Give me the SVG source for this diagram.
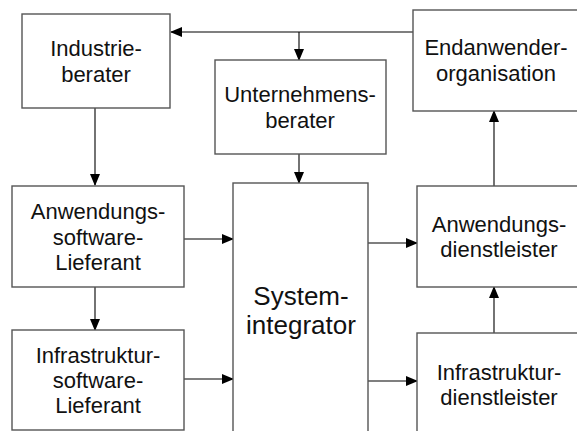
<svg xmlns="http://www.w3.org/2000/svg" width="577" height="431" viewBox="0 0 577 431">
<style>
.box{fill:#fff;stroke:#555;stroke-width:1.4}
.lbl{font-family:"Liberation Sans",Arial,sans-serif;font-size:22px;fill:#111;text-anchor:middle}
.big{font-size:26px}
.con{stroke:#000;stroke-width:1.1;fill:none}
</style>
<defs>
<marker id="ah" markerWidth="12" markerHeight="10" refX="11" refY="5" orient="auto" markerUnits="userSpaceOnUse">
<path d="M0,0 L12,5 L0,10 Z" fill="#000"/>
</marker>
</defs>
<rect width="577" height="431" fill="#fff"/>
<g id="connectors">
<path class="con" d="M413,32 H171" marker-end="url(#ah)"/>
<path class="con" d="M299,32 V60" marker-end="url(#ah)"/>
<path class="con" d="M299,154 V183" marker-end="url(#ah)"/>
<path class="con" d="M95,108 V185" marker-end="url(#ah)"/>
<path class="con" d="M95,287 V330" marker-end="url(#ah)"/>
<path class="con" d="M184,239 H233" marker-end="url(#ah)"/>
<path class="con" d="M184,379 H233" marker-end="url(#ah)"/>
<path class="con" d="M368,243 H417" marker-end="url(#ah)"/>
<path class="con" d="M368,381 H417" marker-end="url(#ah)"/>
<path class="con" d="M494,333 V287" marker-end="url(#ah)"/>
<path class="con" d="M494,186 V111" marker-end="url(#ah)"/>
</g>
<g id="industrieberater">
<rect class="box" x="22" y="14" width="148" height="94"/>
<text class="lbl" x="96" y="56">Industrie-</text>
<text class="lbl" x="96" y="82">berater</text>
</g>
<g id="unternehmensberater">
<rect class="box" x="215" y="60" width="171" height="94"/>
<text class="lbl" x="300" y="102">Unternehmens-</text>
<text class="lbl" x="300" y="128">berater</text>
</g>
<g id="endanwender">
<rect class="box" x="413" y="10" width="170" height="101"/>
<text class="lbl" x="496" y="55">Endanwender-</text>
<text class="lbl" x="496" y="81">organisation</text>
</g>
<g id="anwendungssoftware">
<rect class="box" x="12" y="186" width="172" height="101"/>
<text class="lbl" x="98" y="219">Anwendungs-</text>
<text class="lbl" x="98" y="244.5">software-</text>
<text class="lbl" x="98" y="270">Lieferant</text>
</g>
<g id="infrastruktursoftware">
<rect class="box" x="12" y="330" width="172" height="100"/>
<text class="lbl" x="98" y="363">Infrastruktur-</text>
<text class="lbl" x="98" y="388">software-</text>
<text class="lbl" x="98" y="413">Lieferant</text>
</g>
<g id="systemintegrator">
<rect class="box" x="233" y="183" width="135" height="260"/>
<text class="lbl big" x="301" y="305">System-</text>
<text class="lbl big" x="301" y="334">integrator</text>
</g>
<g id="anwendungsdienstleister">
<rect class="box" x="417" y="186" width="170" height="101"/>
<text class="lbl" x="499" y="232">Anwendungs-</text>
<text class="lbl" x="499" y="257">dienstleister</text>
</g>
<g id="infrastrukturdienstleister">
<rect class="box" x="417" y="333" width="170" height="110"/>
<text class="lbl" x="499" y="380">Infrastruktur-</text>
<text class="lbl" x="499" y="405">dienstleister</text>
</g>
</svg>
